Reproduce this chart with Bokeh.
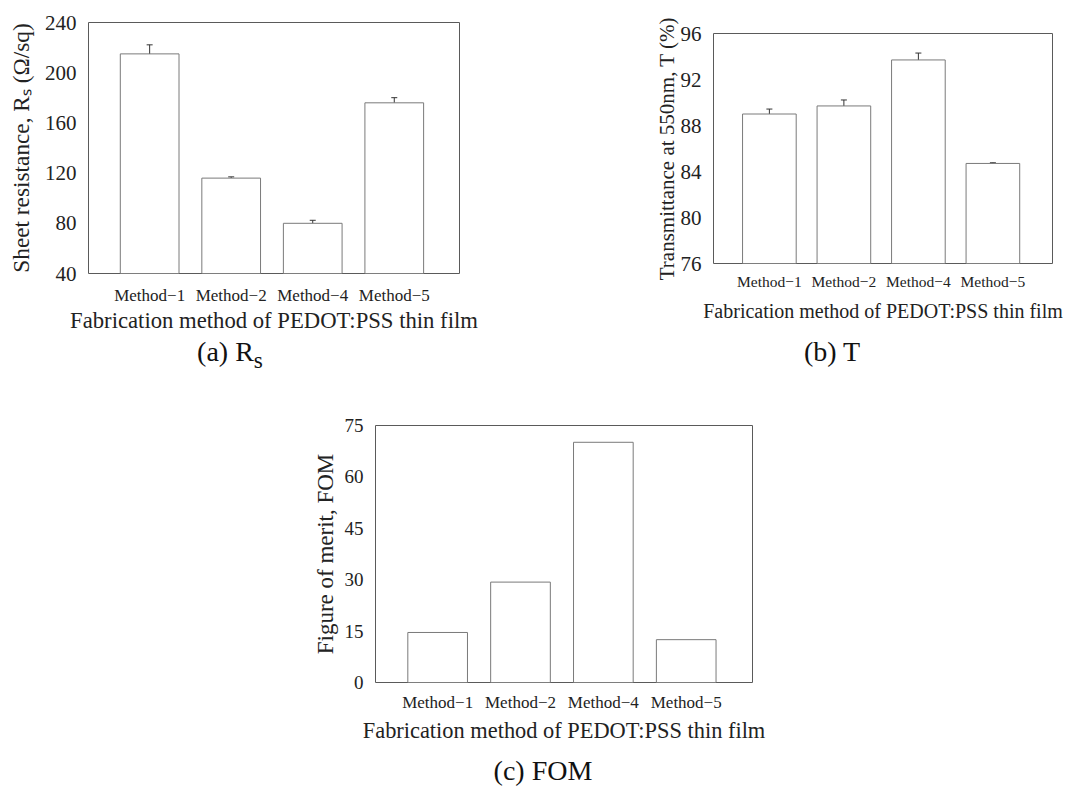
from bokeh.plotting import figure
from bokeh.models import ColumnDataSource, FixedTicker, Whisker, TeeHead, Range1d, Div, Spacer
from bokeh.layouts import column, row
from bokeh.embed import file_html
from bokeh.resources import INLINE

methods = ["Method\u22121", "Method\u22122", "Method\u22124", "Method\u22125"]
xpos = [1, 2, 3, 4]
rs = [215, 116, 80, 176]
rs_err = [7.2, 1.0, 2.4, 4.1]
trans = [89.0, 89.7, 93.7, 84.7]
trans_err = [0.43, 0.52, 0.6, 0.06]
fom = [14.6, 29.3, 70.1, 12.5]

rs_ticks = [40, 80, 120, 160, 200, 240]
t_ticks = [76, 80, 84, 88, 92, 96]
fom_ticks = [0, 15, 30, 45, 60, 75]

FONT = "Liberation Serif"
FRAME = "#5a5a5a"
BAR = "#7a7a7a"
XTITLE = "Fabrication method of PEDOT:PSS thin film"


def make_panel(vals, errs, ticks, ylabel, fw, fh, borders, tick_fs, meth_fs, title_fs,
               meth_standoff, xtitle_standoff, ytitle_standoff, xtitle_fs):
    lo, hi = ticks[0], ticks[-1]
    p = figure(frame_width=fw, frame_height=fh, x_range=Range1d(0.25, 4.8),
               y_range=Range1d(lo, hi), output_backend="svg", toolbar_location=None,
               min_border_left=borders[0], min_border_right=borders[1],
               min_border_top=borders[2], min_border_bottom=borders[3])
    src = ColumnDataSource(dict(x=xpos, top=vals))
    p.vbar(x="x", top="top", bottom=lo, width=0.72, source=src,
           fill_color="white", line_color=BAR, line_width=1)
    if errs is not None:
        esrc = ColumnDataSource(dict(x=xpos,
                                     upper=[v + e for v, e in zip(vals, errs)],
                                     lower=[v - e for v, e in zip(vals, errs)]))
        w = Whisker(base="x", upper="upper", lower="lower", source=esrc,
                    line_color="#333333", line_width=1,
                    upper_head=TeeHead(size=6, line_color="#333333", line_width=1),
                    lower_head=TeeHead(size=6, line_color="#333333", line_width=1))
        p.add_layout(w)
    p.xgrid.visible = False
    p.ygrid.visible = False
    p.outline_line_color = FRAME
    p.outline_line_width = 1
    p.xaxis.ticker = FixedTicker(ticks=xpos)
    p.xaxis.major_label_overrides = {i: m for i, m in zip(xpos, methods)}
    p.yaxis.ticker = FixedTicker(ticks=ticks)
    for ax in (p.xaxis, p.yaxis):
        ax.axis_line_color = None
        ax.major_tick_line_color = None
        ax.minor_tick_line_color = None
        ax.major_tick_out = 0
        ax.major_tick_in = 0
        ax.major_label_text_font = FONT
        ax.major_label_text_color = "#222222"
        ax.axis_label_text_font = FONT
        ax.axis_label_text_font_style = "normal"
        ax.axis_label_text_color = "#222222"
    p.yaxis.axis_label_text_font_size = f"{title_fs}px"
    p.xaxis.axis_label_text_font_size = f"{xtitle_fs}px"
    p.xaxis.major_label_text_font_size = f"{meth_fs}px"
    p.yaxis.major_label_text_font_size = f"{tick_fs}px"
    p.xaxis.major_label_standoff = meth_standoff
    p.yaxis.major_label_standoff = 12
    p.xaxis.axis_label = XTITLE
    p.yaxis.axis_label = ylabel
    p.xaxis.axis_label_standoff = xtitle_standoff
    p.yaxis.axis_label_standoff = ytitle_standoff
    return p


def caption(html, width, height, center):
    inner = (f'<div style="width:200px;margin-left:{center - 100}px;text-align:center;'
             f'font-family:\'{FONT}\';font-size:28px;line-height:{height}px;color:#111;">{html}</div>')
    return Div(text=inner, width=width, height=height, margin=0)


pa = make_panel(rs, rs_err, rs_ticks, "Sheet resistance, R\u209b (\u03a9/sq)",
                371, 251, (88, 49, 22, 62), 21, 17, 23.3, 12, 0, 8, 22.7)
pb = make_panel(trans, trans_err, t_ticks, "Transmittance at 550nm, T (%)",
                339, 230, (205, 16, 33, 72), 21, 15.5, 21, 9, 7, -1, 20)
pc = make_panel(fom, None, fom_ticks, "Figure of merit, FOM",
                377, 257, (80, 30, 56, 70), 19, 17, 23, 10, 3, 4, 22.4)

ca = caption("(a) R<sub>s</sub>", 508, 34, 230)
cb = caption("(b) T", 560, 34, 324)
cc = caption("(c) FOM", 487, 38, 248)

layout = column(
    row(column(pa, ca), column(pb, cb)),
    row(Spacer(width=295, height=10, margin=0), column(pc, cc)),
)

open("out.html", "w").write(file_html(layout, INLINE))
